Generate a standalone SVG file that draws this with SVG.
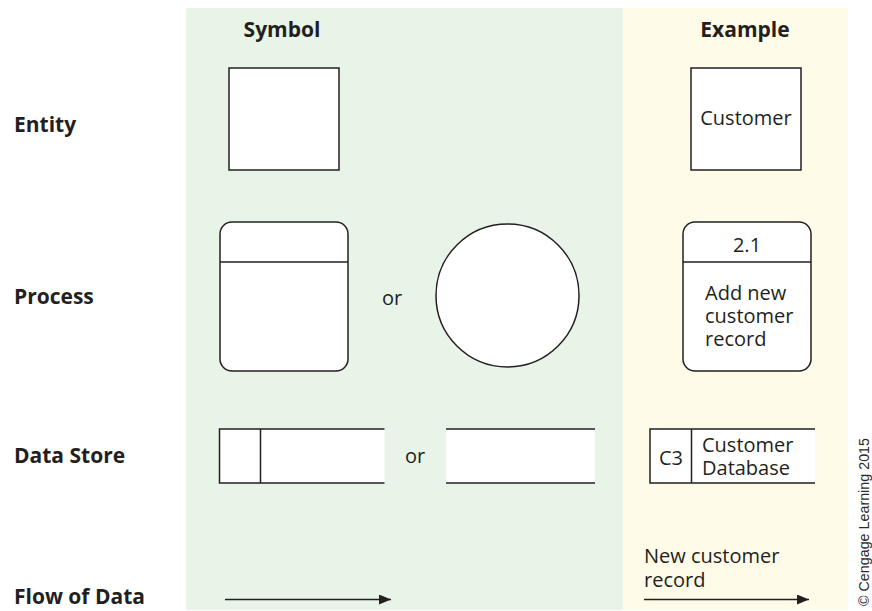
<svg xmlns="http://www.w3.org/2000/svg" width="872" height="611" viewBox="0 0 872 611">
  <defs>
    <style>
      .head { font-family: "Open Sans", "Noto Sans", "Liberation Sans", sans-serif; font-weight: bold; font-size: 21px; fill: #231f20; }
      .txt { font-family: "Open Sans", "Noto Sans", "Liberation Sans", sans-serif; font-size: 20px; fill: #231f20; }
      .shape { fill: #ffffff; stroke: #231f20; stroke-width: 1.5; }
      .line { fill: none; stroke: #231f20; stroke-width: 1.5; }
      .credit { font-family: "Liberation Sans", Arial, sans-serif; font-size: 14px; fill: #2a2a2a; }
    </style>
    <marker id="arrow" viewBox="0 0 12 10" refX="12" refY="5" markerWidth="12" markerHeight="10" markerUnits="userSpaceOnUse" orient="auto">
      <path d="M0,0 L12,5 L0,10 Z" fill="#231f20"/>
    </marker>
  </defs>

  <!-- background panels -->
  <rect x="0" y="0" width="872" height="611" fill="#ffffff"/>
  <rect id="symbol-panel" x="186" y="8" width="437" height="602" fill="#e8f4e8"/>
  <rect id="example-panel" x="623" y="8" width="225" height="602" fill="#fffbe9"/>

  <!-- column headers -->
  <text class="head" x="282" y="37" text-anchor="middle">Symbol</text>
  <text class="head" x="745" y="37" text-anchor="middle">Example</text>

  <!-- row labels -->
  <text class="head" x="14" y="132">Entity</text>
  <text class="head" x="14" y="304">Process</text>
  <text class="head" x="14" y="463">Data Store</text>
  <text class="head" x="14" y="604">Flow of Data</text>

  <!-- Entity -->
  <g id="entity-symbol">
    <rect class="shape" x="229" y="68" width="110" height="102"/>
  </g>
  <g id="entity-example">
    <rect class="shape" x="691" y="68" width="110" height="102"/>
    <text class="txt" x="746" y="125" text-anchor="middle">Customer</text>
  </g>

  <!-- Process -->
  <g id="process-symbol">
    <rect class="shape" x="220" y="222" width="128" height="149" rx="12" ry="12"/>
    <line class="line" x1="220" y1="262" x2="348" y2="262"/>
  </g>
  <text class="txt" x="392" y="305" text-anchor="middle">or</text>
  <g id="process-symbol-alt">
    <circle class="shape" cx="507.5" cy="295.5" r="71.5"/>
  </g>
  <g id="process-example">
    <rect class="shape" x="683" y="222" width="128" height="149" rx="12" ry="12"/>
    <line class="line" x1="683" y1="262" x2="811" y2="262"/>
    <text class="txt" x="747" y="252" text-anchor="middle">2.1</text>
    <text class="txt" x="705" y="300">Add new</text>
    <text class="txt" x="705" y="323">customer</text>
    <text class="txt" x="705" y="346">record</text>
  </g>

  <!-- Data Store -->
  <g id="store-symbol">
    <rect x="219.5" y="429" width="165" height="54" fill="#ffffff"/>
    <path class="line" d="M384.5,429 H219.5 V483 H384.5 M260.5,429 V483"/>
  </g>
  <text class="txt" x="415" y="463" text-anchor="middle">or</text>
  <g id="store-symbol-alt">
    <rect x="446" y="429" width="149" height="54" fill="#ffffff"/>
    <path class="line" d="M446,429 H595 M446,483 H595"/>
  </g>
  <g id="store-example">
    <rect x="650" y="429" width="165" height="54" fill="#ffffff"/>
    <path class="line" d="M815,429 H650 V483 H815 M691.5,429 V483"/>
    <text class="txt" x="671" y="465" text-anchor="middle">C3</text>
    <text class="txt" x="702" y="452">Customer</text>
    <text class="txt" x="702" y="475">Database</text>
  </g>

  <!-- Flow of Data -->
  <g id="connectors">
    <line class="line" x1="225" y1="599.5" x2="391" y2="599.5" marker-end="url(#arrow)"/>
    <line class="line" x1="644" y1="599.5" x2="809" y2="599.5" marker-end="url(#arrow)"/>
  </g>
  <g id="flow-example-label">
    <text class="txt" x="644" y="563">New customer</text>
    <text class="txt" x="644" y="587">record</text>
  </g>

  <!-- credit line -->
  <text class="credit" transform="translate(869,606) rotate(-90)" textLength="168" lengthAdjust="spacingAndGlyphs">© Cengage Learning 2015</text>
</svg>
